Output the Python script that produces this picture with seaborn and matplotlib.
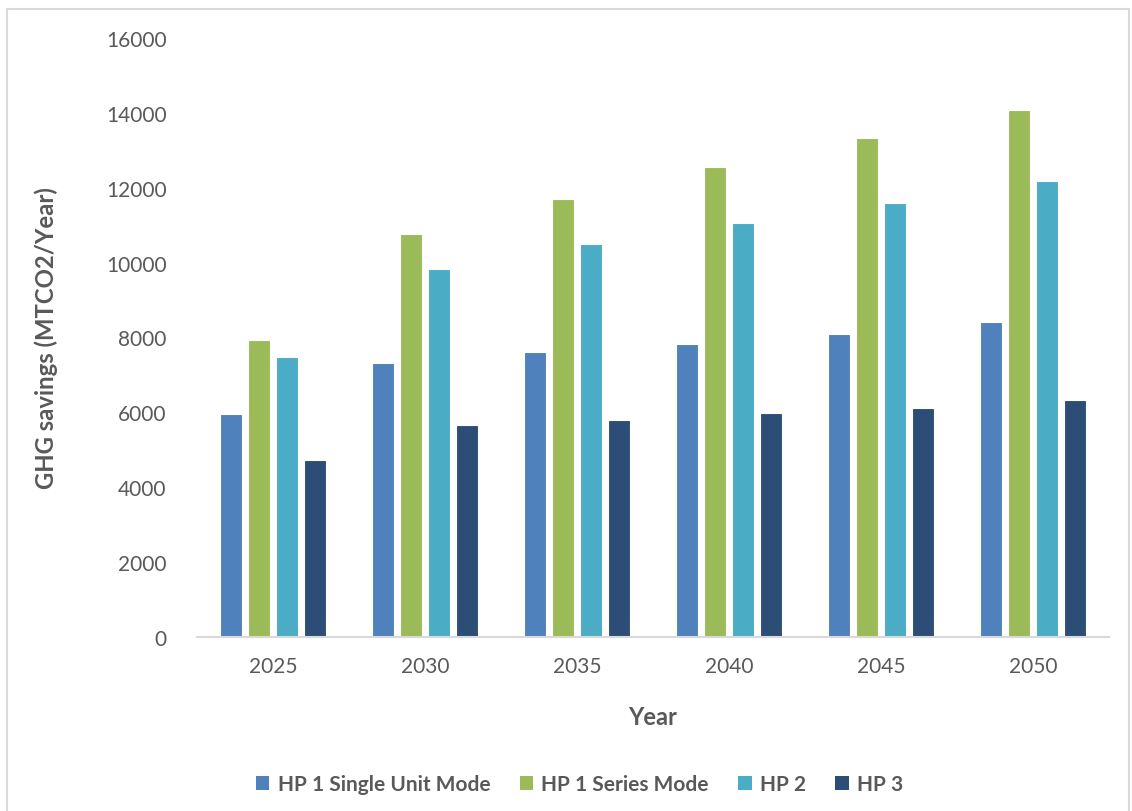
import numpy as np
import pandas as pd
import matplotlib
matplotlib.use("Agg")
import matplotlib.pyplot as plt
from matplotlib.patches import Rectangle, Patch
import seaborn as sns

years = ["2025", "2030", "2035", "2040", "2045", "2050"]
series_names = ["HP 1 Single Unit Mode", "HP 1 Series Mode", "HP 2", "HP 3"]
hp1_single = [5950, 7330, 7600, 7820, 8090, 8410]
hp1_series = [7940, 10760, 11700, 12550, 13320, 14090]
hp2 = [7480, 9840, 10510, 11050, 11590, 12170]
hp3 = [4720, 5650, 5800, 5970, 6110, 6320]
colors = ["#4F81BD", "#9BBB59", "#4BACC6", "#2C4D75"]

df = pd.DataFrame({
    "Year": years * 4,
    "Series": np.repeat(series_names, len(years)),
    "Savings": hp1_single + hp1_series + hp2 + hp3,
})

sns.set_theme(style="white")
plt.rcParams["font.family"] = ["Lato", "DejaVu Sans"]
text_gray = "#595959"

fig = plt.figure(figsize=(11.32, 8.12), dpi=100)
ax = fig.add_axes([197 / 1132, 1 - 638 / 812, 912 / 1132, 599 / 812])

sns.barplot(data=df, x="Year", y="Savings", hue="Series", order=years,
            hue_order=series_names, palette=colors, saturation=1,
            width=0.73, gap=0.2, edgecolor="white", linewidth=0.8,
            ax=ax, legend=False)

ax.set_ylim(0, 16000)
ax.set_yticks(range(0, 16001, 2000))
ax.set_xlim(-0.5, len(years) - 0.5)
for s in ["top", "right", "left"]:
    ax.spines[s].set_visible(False)
ax.spines["bottom"].set_color("#d9d9d9")
ax.spines["bottom"].set_linewidth(1.5)
ax.tick_params(axis="both", length=0, labelsize=15, labelcolor=text_gray)
ax.tick_params(axis="y", pad=22)
ax.tick_params(axis="x", pad=14)

ax.set_xlabel("Year", fontsize=17, fontweight="bold", color=text_gray)
ax.set_ylabel("GHG savings (MTCO2/Year)", fontsize=17.2, fontweight="bold",
              color=text_gray)
ax.yaxis.set_label_coords((58 - 197) / 912, 0.5)
ax.xaxis.set_label_coords(0.5, -(706 - 638) / 599)

handles = [Patch(facecolor=c, edgecolor="none") for c in colors]
fig.legend(handles, series_names, loc="center", bbox_to_anchor=(0.512, 1 - 785 / 812),
           ncol=4, frameon=False, handlelength=0.65, handleheight=0.65,
           handletextpad=0.4, columnspacing=1.4,
           prop={"weight": "bold", "size": 15}, labelcolor=text_gray)

fig.patches.append(Rectangle((7 / 1132, -0.02), (1129 - 7) / 1132, 1 - 10 / 812 + 0.02,
                             transform=fig.transFigure, fill=False,
                             edgecolor="#d9d9d9", linewidth=1.5))

fig.savefig("out.png", dpi=100)
